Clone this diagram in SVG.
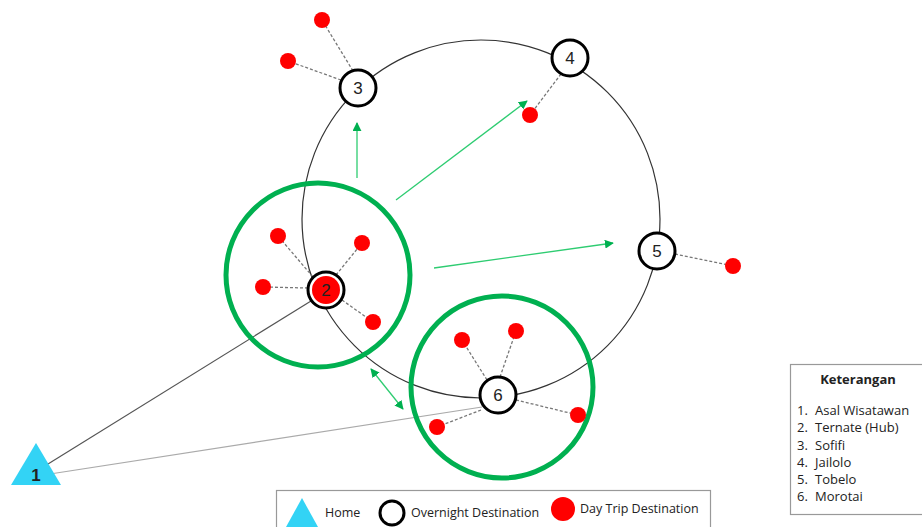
<svg xmlns="http://www.w3.org/2000/svg" width="922" height="527" viewBox="0 0 922 527">
<style>
.on{fill:#fff;stroke:#000;stroke-width:3}
.dt{fill:#ff0000}
.dash{stroke:#777;stroke-width:1.3;stroke-dasharray:3,2;fill:none}
.num{font-family:"Liberation Sans",Arial,sans-serif;font-size:17px;fill:#222;text-anchor:middle}
.grn{fill:none;stroke:#00b050;stroke-width:5}
.arr{stroke:#2ecc71;stroke-width:1.3;fill:none}
.lg{font-family:"Open Sans","Liberation Sans",sans-serif;font-size:12.5px;fill:#222}
.kt{font-family:"Open Sans","Liberation Sans",sans-serif;font-size:13px;fill:#222}
</style>
<defs>
<marker id="ah" viewBox="0 0 10 10" refX="9" refY="5" markerWidth="9" markerHeight="9" markerUnits="userSpaceOnUse" orient="auto-start-reverse">
<path d="M0,0 L10,5 L0,10 z" fill="#00b050"/>
</marker>
</defs>
<rect width="922" height="527" fill="#fff"/>
<g id="connectors">
<circle cx="481" cy="219" r="179" fill="none" stroke="#333" stroke-width="1.2"/>
<line x1="48" y1="464" x2="311" y2="301" stroke="#555" stroke-width="1.2"/>
<line x1="50" y1="474" x2="482" y2="407" stroke="#aaa" stroke-width="1.2"/>
<line class="arr" x1="357" y1="178" x2="357" y2="123" marker-end="url(#ah)"/>
<line class="arr" x1="396" y1="200" x2="527" y2="101" marker-end="url(#ah)"/>
<line class="arr" x1="434" y1="268" x2="613" y2="243" marker-end="url(#ah)"/>
<line class="arr" x1="371" y1="369" x2="403" y2="409" marker-start="url(#ah)" marker-end="url(#ah)"/>
<line class="dash" x1="353" y1="71" x2="322" y2="20"/>
<line class="dash" x1="341" y1="80" x2="288" y2="61"/>
<line class="dash" x1="561" y1="74" x2="530" y2="115"/>
<line class="dash" x1="675" y1="254" x2="733" y2="266"/>
<line class="dash" x1="313" y1="277" x2="278" y2="236"/>
<line class="dash" x1="336" y1="275" x2="362" y2="243"/>
<line class="dash" x1="308" y1="288" x2="263" y2="287"/>
<line class="dash" x1="342" y1="300" x2="373" y2="322"/>
<line class="dash" x1="487" y1="380" x2="462" y2="340"/>
<line class="dash" x1="500" y1="377" x2="516" y2="331"/>
<line class="dash" x1="516" y1="400" x2="578" y2="415"/>
<line class="dash" x1="481" y1="410" x2="437" y2="427"/>
</g>
<g id="cluster2"><circle class="grn" cx="318" cy="275" r="92"/></g>
<g id="cluster6"><circle class="grn" cx="502" cy="387" r="91"/></g>
<g id="daytrips">
<circle class="dt" cx="322" cy="20" r="8"/>
<circle class="dt" cx="288" cy="61" r="8"/>
<circle class="dt" cx="530" cy="115" r="8"/>
<circle class="dt" cx="733" cy="266" r="8"/>
<circle class="dt" cx="278" cy="236" r="8"/>
<circle class="dt" cx="362" cy="243" r="8"/>
<circle class="dt" cx="263" cy="287" r="8"/>
<circle class="dt" cx="373" cy="322" r="8"/>
<circle class="dt" cx="462" cy="340" r="8"/>
<circle class="dt" cx="516" cy="331" r="8"/>
<circle class="dt" cx="578" cy="415" r="8"/>
<circle class="dt" cx="437" cy="427" r="8"/>
</g>
<g id="node1">
<polygon points="36,443 61,485 11,485" fill="#33d3f5"/>
<text x="36" y="481" class="num" font-weight="bold" font-size="15" fill="#111">1</text>
</g>
<g id="node2">
<circle cx="326" cy="290" r="18" fill="#fff" stroke="#000" stroke-width="3"/>
<circle cx="326" cy="290" r="14" fill="#ff0000"/>
<text x="326" y="296" class="num">2</text>
</g>
<g id="node3"><circle class="on" cx="358" cy="88" r="18"/><text x="358" y="94" class="num">3</text></g>
<g id="node4"><circle class="on" cx="570" cy="58" r="18"/><text x="570" y="64" class="num">4</text></g>
<g id="node5"><circle class="on" cx="657" cy="251" r="18"/><text x="657" y="257" class="num">5</text></g>
<g id="node6"><circle class="on" cx="498" cy="395" r="18"/><text x="498" y="401" class="num">6</text></g>
<g id="legend">
<rect x="276.5" y="490.5" width="434" height="40" fill="#fff" stroke="#999" stroke-width="1.2"/>
<polygon points="302,498 318,527 286,527" fill="#33d3f5"/>
<text x="325" y="517" class="lg">Home</text>
<circle cx="392" cy="513" r="12" fill="#fff" stroke="#000" stroke-width="3"/>
<text x="411" y="517" class="lg">Overnight Destination</text>
<circle class="dt" cx="563" cy="509" r="12"/>
<text x="580" y="513" class="lg">Day Trip Destination</text>
</g>
<g id="keterangan">
<rect x="790.5" y="364.5" width="135" height="150" fill="#fff" stroke="#999" stroke-width="1.2"/>
<text x="858" y="384" class="kt" font-weight="bold" font-size="14" text-anchor="middle">Keterangan</text>
<text x="797" y="415" class="kt">1.</text><text x="815" y="415" class="kt">Asal Wisatawan</text>
<text x="797" y="432" class="kt">2.</text><text x="815" y="432" class="kt">Ternate (Hub)</text>
<text x="797" y="450" class="kt">3.</text><text x="815" y="450" class="kt">Sofifi</text>
<text x="797" y="467" class="kt">4.</text><text x="815" y="467" class="kt">Jailolo</text>
<text x="797" y="484" class="kt">5.</text><text x="815" y="484" class="kt">Tobelo</text>
<text x="797" y="501" class="kt">6.</text><text x="815" y="501" class="kt">Morotai</text>
</g>
</svg>
